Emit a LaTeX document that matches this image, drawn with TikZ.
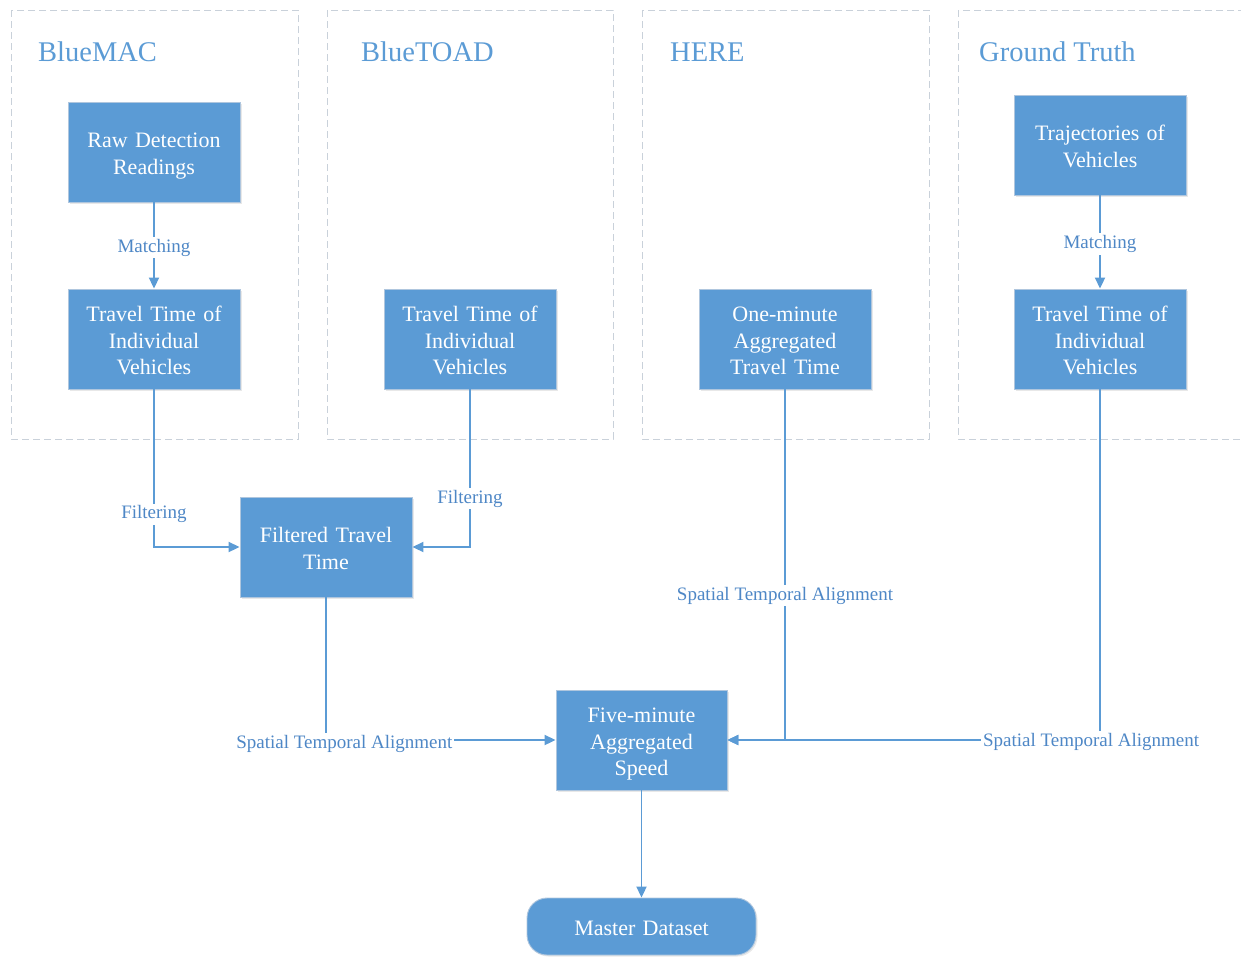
\documentclass[tikz,border=0pt]{standalone}
\usepackage{fontspec}
\setmainfont{Liberation Serif}
\usetikzlibrary{arrows.meta,shadows}
\definecolor{boxfill}{HTML}{5B9BD5}
\definecolor{boxborder}{HTML}{AFC6DE}
\definecolor{linecol}{HTML}{5B9BD5}
\definecolor{lblcol}{HTML}{4E87C6}
\definecolor{titlecol}{HTML}{5B9BD5}
\definecolor{groupcol}{HTML}{C9D1DA}
\begin{document}
\begin{tikzpicture}[x=1pt,y=-1pt,
  stepbox/.style={draw=boxborder, line width=0.9pt, fill=boxfill, minimum width=172pt, minimum height=100pt,
    text width=168pt, align=center, inner sep=0pt, text=white,
    font=\fontsize{22}{26.5}\selectfont, text height=19pt, text depth=1pt,
    drop shadow={opacity=0.18, shadow xshift=1.5pt, shadow yshift=-1.5pt}},
  twolines/.style={text depth=27.5pt},
  threelines/.style={text depth=54pt},
  groupbox/.style={draw=groupcol, line width=0.9pt, dash pattern=on 7pt off 4pt},
  grouptitle/.style={anchor=west, inner sep=0pt, text=titlecol, font=\fontsize{28.5}{32}\selectfont},
  conn/.style={draw=linecol, line width=1.9pt, -{Triangle[length=11pt,width=10pt]}},
  lbl/.style={fill=white, inner sep=2pt, text=lblcol, font=\fontsize{19}{22}\selectfont, yshift=-2pt}]
\useasboundingbox (0,0) rectangle (1241,956);

% groups
\draw[groupbox] (11,10) rectangle (298,439);
\draw[groupbox] (327,10) rectangle (613,439);
\draw[groupbox] (642,10) rectangle (929,439);
\draw[groupbox] (958,10) rectangle (1250,439);
\node[grouptitle] (tBM) at (38,52) {BlueMAC};
\node[grouptitle] (tBT) at (361,52) {BlueTOAD};
\node[grouptitle] (tHE) at (670,52) {HERE};
\node[grouptitle] (tGT) at (979,52) {Ground Truth};

% boxes
\node[stepbox, twolines] (raw) at (154,152) {Raw Detection\\Readings};
\node[stepbox, threelines] (tt1) at (154,339) {Travel Time of\\Individual\\Vehicles};
\node[stepbox, threelines] (tt2) at (470,339) {Travel Time of\\Individual\\Vehicles};
\node[stepbox, threelines] (one) at (785,339) {One-minute\\Aggregated\\Travel Time};
\node[stepbox, twolines] (traj) at (1100,145) {Trajectories of\\Vehicles};
\node[stepbox, threelines] (tt4) at (1100,339) {Travel Time of\\Individual\\Vehicles};
\node[stepbox, twolines] (filt) at (326,547) {Filtered Travel\\Time};
\node[stepbox, threelines, minimum width=171pt] (five) at (641.5,740) {Five-minute\\Aggregated\\Speed};
\node[stepbox, minimum width=229pt, minimum height=57pt, rounded corners=20pt] (master) at (641.5,926.5) {Master Dataset};

% connectors
\draw[conn] (raw) -- node[lbl]{Matching} (tt1);
\draw[conn] (traj) -- node[lbl]{Matching} (tt4);
\draw[conn] (tt1.south) |- node[lbl, pos=0.39]{Filtering} (filt.west);
\draw[conn] (tt2.south) |- node[lbl, pos=0.34]{Filtering} (filt.east);
\draw[conn] (filt.south) |- node[lbl, pos=0.54, yshift=-2pt]{Spatial Temporal Alignment} (five.west);
\draw[conn] (one.south) |- node[lbl, pos=0.29, yshift=-1pt]{Spatial Temporal Alignment} (five.east);
\draw[conn] (tt4.south) |- node[lbl, pos=0.512]{Spatial Temporal Alignment} (five.east);
\draw[conn] (five) -- (master);
\end{tikzpicture}
\end{document}
